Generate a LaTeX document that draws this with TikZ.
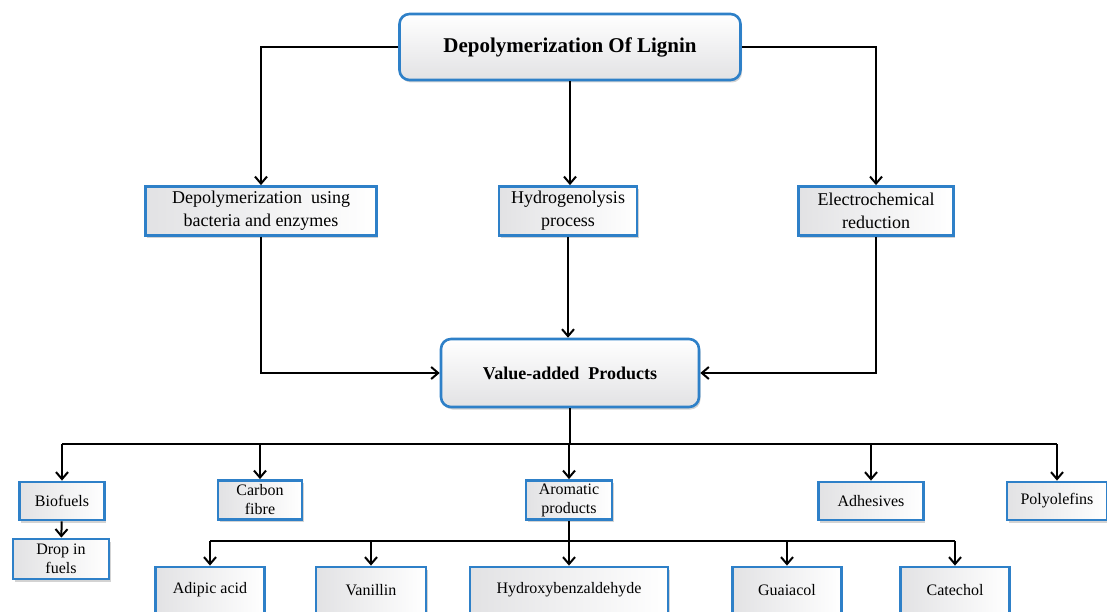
\documentclass[tikz,border=0pt]{standalone}
\usepackage{fontspec}
\setmainfont{Liberation Serif}
\usetikzlibrary{arrows.meta,positioning,calc,shadows}
\definecolor{boxblue}{RGB}{46,128,200}
\definecolor{boxshade}{RGB}{226,226,228}
\tikzset{
  flow/.style={-{Straight Barb[length=7pt,width=12pt]},line width=2pt,black},
  link/.style={line width=2pt,black},
  mainbox/.style={draw=boxblue,line width=2.6pt,rounded corners=10pt,align=center,
    top color=white,bottom color=boxshade,
    drop shadow={shadow xshift=1.5pt,shadow yshift=-2.5pt,opacity=.35},
    font=\fontsize{21}{24}\selectfont\bfseries},
  procbox/.style={draw=boxblue,line width=2.8pt,align=center,
    left color=boxshade,right color=white,
    drop shadow={shadow xshift=1.5pt,shadow yshift=-2.5pt,opacity=.35},
    inner sep=1pt,font=\fontsize{18}{23}\selectfont},
  prodbox/.style={procbox,font=\fontsize{16}{19}\selectfont}
}
\begin{document}
\begin{tikzpicture}[x=1pt,y=1pt]
\useasboundingbox (0,0) rectangle (1107,-612);
% top level
\node[mainbox,minimum width=341,minimum height=66] (lignin) at (570,-47) {Depolymerization Of Lignin};
\node[procbox,minimum width=231,minimum height=49] (bact) at (261,-211) {Depolymerization\ \ using\\bacteria\ and\ enzymes};
\node[procbox,minimum width=138,minimum height=49] (hydro) at (568,-211) {Hydrogenolysis\\process};
\node[procbox,minimum width=155,minimum height=49] (electro) at (876,-211) {Electrochemical\\reduction};
\node[mainbox,minimum width=258,minimum height=68,font=\fontsize{18}{22}\selectfont\bfseries] (value) at (570,-373) {Value-added\ \ Products};
% products
\node[prodbox,minimum width=85,minimum height=38] (biofuel) at (62,-501) {Biofuels};
\node[prodbox,minimum width=96,minimum height=40] (dropin) at (61,-559) {Drop in\\fuels};
\node[prodbox,minimum width=84,minimum height=39] (carbon) at (260,-500) {Carbon\\fibre};
\node[prodbox,minimum width=86,minimum height=39] (arom) at (569,-500) {Aromatic\\products};
\node[prodbox,minimum width=105,minimum height=38] (adhes) at (871,-501) {Adhesives};
\node[prodbox,minimum width=100,minimum height=38] (polyol) at (1057,-501) {Polyolefins};
% aromatic products
\node[prodbox,minimum width=109,minimum height=46] (adipic) at (210,-590) {Adipic acid};
\node[prodbox,minimum width=110,minimum height=46] (vanil) at (371,-590) {Vanillin};
\node[prodbox,minimum width=198,minimum height=46] (hbenz) at (569,-590) {Hydroxybenzaldehyde};
\node[prodbox,minimum width=109,minimum height=46] (guaia) at (787,-590) {Guaiacol};
\node[prodbox,minimum width=109,minimum height=46] (catec) at (955,-590) {Catechol};
% connectors
\draw[flow] (lignin.west) -| (bact.north);
\draw[flow] (lignin.east) -| (electro.north);
\draw[flow] (lignin.south) -- (lignin.south |- hydro.north);
\draw[flow] (bact.south) |- (value.west);
\draw[flow] (electro.south) |- (value.east);
\draw[flow] (hydro.south) -- (hydro.south |- value.north);
\coordinate (split) at ($(value.south)+(0,-36)$);
\draw[link] (value.south) -- (split);
\draw[link] (biofuel.north |- split) -- (polyol.north |- split);
\foreach \n in {biofuel,carbon,arom,adhes,polyol}
  \draw[flow] (\n.north |- split) -- (\n.north);
\draw[flow] (biofuel) -- (dropin);
\coordinate (split2) at ($(arom.south)+(0,-20)$);
\draw[link] (arom.south) -- (split2);
\draw[link] (adipic.north |- split2) -- (catec.north |- split2);
\foreach \n in {adipic,vanil,hbenz,guaia,catec}
  \draw[flow] (\n.north |- split2) -- (\n.north);
\end{tikzpicture}
\end{document}
